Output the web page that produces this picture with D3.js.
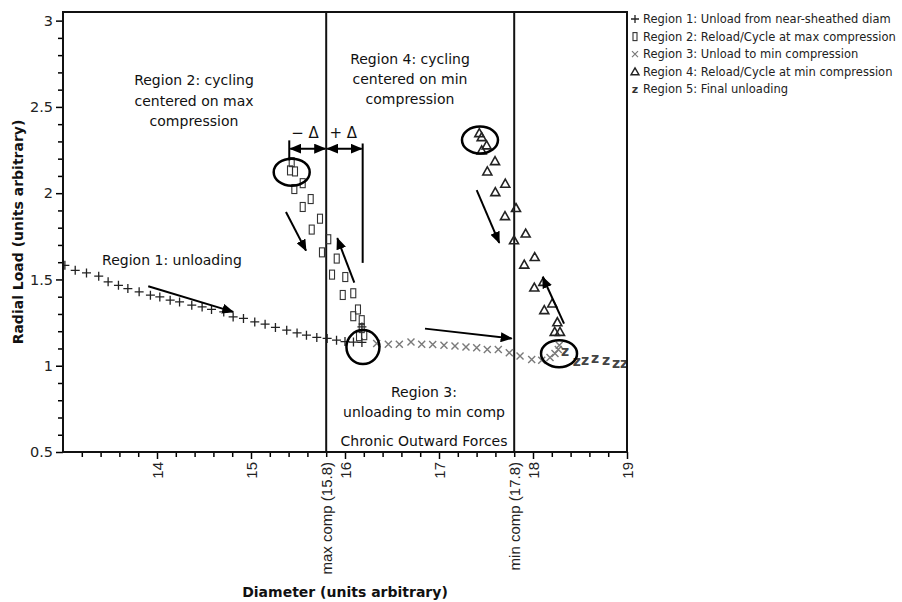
<!DOCTYPE html>
<html>
<head>
<meta charset="utf-8">
<script src="https://cdn.jsdelivr.net/npm/d3@7"></script>
<style>
  html, body { margin: 0; padding: 0; background: #fff; }
  svg { display: block; font-family: "DejaVu Sans", Verdana, sans-serif; }
</style>
</head>
<body>
<svg id="chart" width="902" height="602"></svg>
<script>
// ---------- data ----------
const region1X = [13.02,13.13,13.25,13.38,13.48,13.59,13.69,13.81,13.93,14.03,14.14,14.24,14.37,14.48,14.58,14.71,14.81,14.92,15.04,15.15,15.26,15.38,15.49,15.59,15.70,15.81,15.91,16.00,16.09,16.18,16.18];
const region1Y = [1.582,1.553,1.538,1.519,1.486,1.466,1.447,1.428,1.409,1.399,1.380,1.370,1.351,1.341,1.326,1.312,1.283,1.274,1.254,1.241,1.222,1.206,1.190,1.177,1.164,1.158,1.148,1.140,1.137,1.135,1.225];

const region2X = [15.433,15.415,15.468,15.550,15.461,15.635,15.550,15.734,15.646,15.822,15.755,15.912,15.862,16.003,15.976,16.088,16.138,16.088,16.178,16.178,16.205,16.149];
const region2Y = [2.180,2.132,2.126,2.058,2.024,1.966,1.920,1.852,1.789,1.733,1.657,1.621,1.528,1.514,1.410,1.420,1.326,1.287,1.264,1.218,1.177,1.171];

const region3X = [16.337,16.461,16.578,16.702,16.816,16.933,17.053,17.170,17.287,17.401,17.514,17.631,17.748,17.862,17.986,18.093,18.181,18.234,18.269,18.280];
const region3Y = [1.129,1.125,1.125,1.138,1.125,1.123,1.119,1.115,1.109,1.104,1.094,1.094,1.075,1.056,1.036,1.032,1.048,1.071,1.094,1.119];

const region4X = [17.429,17.454,17.507,17.454,17.596,17.514,17.705,17.599,17.819,17.702,17.922,17.798,18.018,17.907,18.110,18.014,18.205,18.120,18.259,18.231,18.287];
const region4Y = [2.348,2.325,2.277,2.248,2.186,2.126,2.055,2.006,1.914,1.867,1.766,1.727,1.630,1.586,1.486,1.453,1.361,1.322,1.252,1.196,1.196];

const region5X = [18.340,18.465,18.553,18.660,18.777,18.883,18.968];
const region5Y = [1.086,1.028,1.032,1.042,1.036,1.017,1.013];

const legendLabels = [
  "Region 1: Unload from near-sheathed diam",
  "Region 2: Reload/Cycle at max compression",
  "Region 3: Unload to min compression",
  "Region 4: Reload/Cycle at min compression",
  "Region 5: Final unloading"
];
const xTicks = [14, 15, 16, 17, 18, 19];
const yTicks = [0.5, 1, 1.5, 2, 2.5, 3];
const refLines = [15.8, 17.8];
const refLabels = ["max comp (15.8)", "min comp (17.8)"];

// annotation arrows in data units [x1,y1,x2,y2]
const arrows = [
  [13.907, 1.461, 14.811, 1.312],
  [15.372, 1.891, 15.585, 1.667],
  [16.099, 1.481, 15.918, 1.739],
  [16.851, 1.215, 17.773, 1.158],
  [17.401, 2.018, 17.641, 1.712],
  [18.330, 1.244, 18.103, 1.514]
];
// circled points (data units)
const circleCenters = [[15.433, 2.122], [16.191, 1.108], [17.436, 2.308], [18.277, 1.070]];

// ---------- layout ----------
const svg = d3.select("#chart");
const x = d3.scaleLinear().domain([13, 19]).range([63, 627]);
const y = d3.scaleLinear().domain([0.5, 3.05]).range([452, 12]);

// defs
const defs = svg.append("defs");
defs.append("marker").attr("id", "ah").attr("viewBox", "0 0 12 10")
  .attr("refX", 11).attr("refY", 5).attr("markerWidth", 12).attr("markerHeight", 10)
  .attr("markerUnits", "userSpaceOnUse").attr("orient", "auto")
  .append("path").attr("d", "M0,0 L12,5 L0,10 Z").attr("fill", "#000");
defs.append("marker").attr("id", "ahs").attr("viewBox", "0 0 12 10")
  .attr("refX", 11).attr("refY", 5).attr("markerWidth", 12).attr("markerHeight", 10)
  .attr("markerUnits", "userSpaceOnUse").attr("orient", "auto-start-reverse")
  .append("path").attr("d", "M0,0 L12,5 L0,10 Z").attr("fill", "#000");
defs.append("clipPath").attr("id", "plotclip").append("rect")
  .attr("x", 63).attr("y", 12).attr("width", 564).attr("height", 440);

// axes: y
const yAxis = svg.append("g").attr("transform", "translate(63,0)")
  .call(d3.axisLeft(y).tickValues(yTicks).tickSize(7).tickPadding(3).tickFormat(d => String(d)));
yAxis.select(".domain").remove();
yAxis.selectAll("text").attr("font-size", 14.5).attr("fill", "#222").attr("font-family", "DejaVu Sans, sans-serif");
yAxis.selectAll("line").attr("stroke-width", 1.5);
const yMinor = d3.range(6, 30).map(v => v / 10).filter(v => Math.abs(v * 2 - Math.round(v * 2)) > 1e-6);
const yAxisMinor = svg.append("g").attr("transform", "translate(63,0)")
  .call(d3.axisLeft(y).tickValues(yMinor).tickSize(5).tickFormat(""));
yAxisMinor.select(".domain").remove();
yAxisMinor.selectAll("line").attr("stroke-width", 1.5);

// axes: x
const xAxis = svg.append("g").attr("transform", "translate(0,452)")
  .call(d3.axisBottom(x).tickValues(xTicks).tickSize(7).tickFormat(d => String(d)));
xAxis.select(".domain").remove();
xAxis.selectAll("line").attr("stroke-width", 1.5);
xAxis.selectAll("text").attr("font-size", 15).attr("fill", "#222")
  .attr("transform", "rotate(-90)").attr("x", -10).attr("y", 0).attr("dy", "0.35em")
  .style("text-anchor", "end");
const xMinor = d3.range(66, 95).map(v => v / 5).filter(v => Math.abs(v - Math.round(v)) > 1e-6);
const xAxisMinor = svg.append("g").attr("transform", "translate(0,452)")
  .call(d3.axisBottom(x).tickValues(xMinor).tickSize(5).tickFormat(""));
xAxisMinor.select(".domain").remove();
xAxisMinor.selectAll("line").attr("stroke-width", 1.5);
const xRef = svg.append("g").attr("transform", "translate(0,452)")
  .call(d3.axisBottom(x).tickValues(refLines).tickSize(0).tickFormat((d, i) => refLabels[i]));
xRef.select(".domain").remove();
xRef.selectAll("text").attr("font-size", 15).attr("fill", "#222")
  .attr("transform", "rotate(-90)").attr("x", -10).attr("y", 0).attr("dy", "0.35em")
  .style("text-anchor", "end");

// axis titles
svg.append("text").attr("x", 345).attr("y", 597).attr("text-anchor", "middle")
  .attr("font-weight", "bold").attr("font-size", 14).attr("fill", "#111")
  .text("Diameter (units arbitrary)");
svg.append("text").attr("transform", "translate(23,232) rotate(-90)").attr("text-anchor", "middle")
  .attr("font-weight", "bold").attr("font-size", 14).attr("fill", "#111")
  .text("Radial Load (units arbitrary)");

// reference lines
svg.append("g").selectAll("line").data(refLines).join("line")
  .attr("x1", d => x(d)).attr("x2", d => x(d)).attr("y1", 12).attr("y2", 452)
  .attr("stroke", "#111").attr("stroke-width", 2);

// ---------- marks ----------
const plot = svg.append("g").attr("clip-path", "url(#plotclip)");
const zip = (xs, ys) => xs.map((v, i) => [v, ys[i]]);

plot.append("g").selectAll("path").data(zip(region3X, region3Y)).join("path")
  .attr("transform", d => `translate(${x(d[0])},${y(d[1])})`)
  .attr("d", "M-3.5,-3.5L3.5,3.5M-3.5,3.5L3.5,-3.5")
  .attr("stroke", "#7a7a7a").attr("stroke-width", 1.4).attr("fill", "none");

plot.append("g").selectAll("path").data(zip(region1X, region1Y)).join("path")
  .attr("transform", d => `translate(${x(d[0])},${y(d[1])})`)
  .attr("d", "M-4.5,0H4.5M0,-4.5V4.5")
  .attr("stroke", "#222").attr("stroke-width", 1.3).attr("fill", "none");

plot.append("g").selectAll("rect").data(zip(region2X, region2Y)).join("rect")
  .attr("x", d => x(d[0]) - 2.5).attr("y", d => y(d[1]) - 4.5)
  .attr("width", 5).attr("height", 9)
  .attr("stroke", "#333").attr("stroke-width", 1.1).attr("fill", "none");

plot.append("g").selectAll("path").data(zip(region4X, region4Y)).join("path")
  .attr("transform", d => `translate(${x(d[0])},${y(d[1])})`)
  .attr("d", "M0,-4.5L4.5,3.5L-4.5,3.5Z")
  .attr("stroke", "#222").attr("stroke-width", 1.6).attr("fill", "none");

plot.append("g").selectAll("text").data(zip(region5X, region5Y)).join("text")
  .attr("x", d => x(d[0])).attr("y", d => y(d[1]) + 5)
  .attr("text-anchor", "middle").attr("font-size", 14).attr("font-weight", "bold")
  .attr("fill", "#444").text("z");

// frame
svg.append("rect").attr("x", 63).attr("y", 12).attr("width", 564).attr("height", 440)
  .attr("fill", "none").attr("stroke", "#111").attr("stroke-width", 2);

// ---------- annotations ----------
svg.append("g").selectAll("line").data(arrows).join("line")
  .attr("x1", d => x(d[0])).attr("y1", d => y(d[1]))
  .attr("x2", d => x(d[2])).attr("y2", d => y(d[3]))
  .attr("stroke", "#000").attr("stroke-width", 2).attr("marker-end", "url(#ah)");

svg.append("g").selectAll("ellipse").data(circleCenters).join("ellipse")
  .attr("cx", d => x(d[0])).attr("cy", d => y(d[1]))
  .attr("rx", (d, i) => i === 1 ? 16.5 : 18).attr("ry", (d, i) => i === 1 ? 17 : 13.5)
  .attr("fill", "none").attr("stroke", "#000").attr("stroke-width", 2.5);

// delta markers
const deltaY = 2.258;
svg.append("line").attr("x1", x(15.407)).attr("x2", x(15.407)).attr("y1", y(2.306)).attr("y2", y(2.19))
  .attr("stroke", "#000").attr("stroke-width", 2);
svg.append("line").attr("x1", x(16.188)).attr("x2", x(16.188)).attr("y1", y(2.288)).attr("y2", y(1.596))
  .attr("stroke", "#000").attr("stroke-width", 2);
[[15.407, 15.8], [15.8, 16.188]].forEach(s => {
  svg.append("line").attr("x1", x(s[0]) + 1).attr("x2", x(s[1]) - 1).attr("y1", y(deltaY)).attr("y2", y(deltaY))
    .attr("stroke", "#000").attr("stroke-width", 2)
    .attr("marker-start", "url(#ahs)").attr("marker-end", "url(#ah)");
});
svg.append("text").attr("x", x(15.574)).attr("y", y(2.32)).attr("text-anchor", "middle")
  .attr("font-size", 15).attr("fill", "#111").text("− Δ");
svg.append("text").attr("x", x(15.982)).attr("y", y(2.32)).attr("text-anchor", "middle")
  .attr("font-size", 15).attr("fill", "#111").text("+ Δ");

// region texts
function multiText(cx, by, lines, lh) {
  const t = svg.append("text").attr("text-anchor", "middle").attr("font-size", 14).attr("fill", "#111");
  lines.forEach((l, i) => t.append("tspan").attr("x", cx).attr("y", by + i * lh).text(l));
}
multiText(172, 265, ["Region 1: unloading"], 20);
multiText(194, 85, ["Region 2: cycling", "centered on max", "compression"], 20.5);
multiText(410, 64, ["Region 4: cycling", "centered on min", "compression"], 20);
multiText(424, 397, ["Region 3:", "unloading to min comp"], 20);
multiText(424, 446, ["Chronic Outward Forces"], 20);

// ---------- legend ----------
const lg = svg.append("g");
const legendY = i => 19 + i * 17.6;
lg.append("path").attr("d", `M${631},${legendY(0)}h8M${635},${legendY(0) - 4}v8`).attr("stroke", "#222").attr("stroke-width", 1.3);
lg.append("rect").attr("x", 633).attr("y", legendY(1) - 4).attr("width", 4).attr("height", 8)
  .attr("fill", "none").attr("stroke", "#333").attr("stroke-width", 1.1);
lg.append("path").attr("d", `M632,${legendY(2) - 3}l6,6M632,${legendY(2) + 3}l6,-6`).attr("stroke", "#7a7a7a").attr("stroke-width", 1.2);
lg.append("path").attr("d", `M635,${legendY(3) - 4}L639,${legendY(3) + 3}L631,${legendY(3) + 3}Z`).attr("fill", "none").attr("stroke", "#222").attr("stroke-width", 1.4);
lg.append("text").attr("x", 635).attr("y", legendY(4) + 4).attr("text-anchor", "middle").attr("font-size", 11).attr("font-weight", "bold").attr("fill", "#333").text("z");
lg.selectAll("text.lab").data(legendLabels).join("text").attr("class", "lab")
  .attr("x", 643).attr("y", (d, i) => legendY(i) + 4)
  .attr("font-size", 11.5).attr("fill", "#222").text(d => d);
</script>
</body>
</html>
